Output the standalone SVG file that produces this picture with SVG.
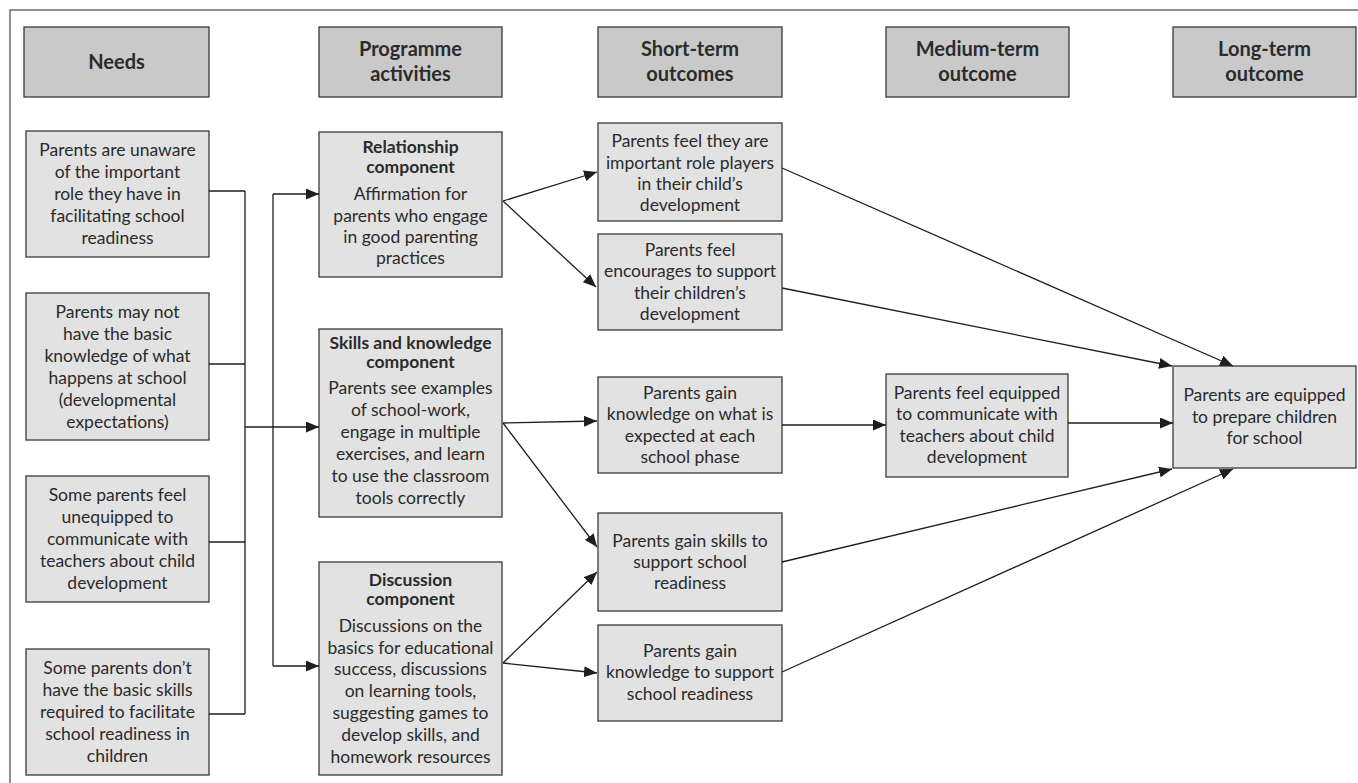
<svg xmlns="http://www.w3.org/2000/svg" width="1358" height="783" viewBox="0 0 1358 783">
<defs>
<marker id="ah" markerUnits="userSpaceOnUse" markerWidth="13" markerHeight="11" refX="13" refY="5.5" orient="auto">
<path d="M0,0 L13,5.5 L0,11 z" fill="#1e1e1e"/>
</marker>
<style>
.hdr{fill:#c9c9ca;stroke:#3a3a3a;stroke-width:1.3}
.box{fill:#e2e2e3;stroke:#3a3a3a;stroke-width:1.3}
text{font-family:Lato,"Liberation Sans",sans-serif;font-size:17.5px;fill:#2b2b2b;text-anchor:middle}
.b{font-weight:bold}
.h{font-weight:bold;font-size:20px}
.c{fill:none;stroke:#1e1e1e;stroke-width:1.3}
.a{marker-end:url(#ah)}
</style>
</defs>
<rect width="1358" height="783" fill="#ffffff"/>
<path d="M10,783 V10 H1358" fill="none" stroke="#6e6e6e" stroke-width="1.5"/>

<g id="h-needs"><rect class="hdr" x="24" y="27" width="185" height="70"/><text class="h" x="116.5" y="69">Needs</text></g>
<g id="h-activities"><rect class="hdr" x="319" y="27" width="183" height="70"/><text class="h" x="410.5" y="56">Programme</text><text class="h" x="410.5" y="81">activities</text></g>
<g id="h-short"><rect class="hdr" x="598" y="27" width="184" height="70"/><text class="h" x="690" y="56">Short-term</text><text class="h" x="690" y="81">outcomes</text></g>
<g id="h-medium"><rect class="hdr" x="886" y="27" width="183" height="70"/><text class="h" x="977.5" y="56">Medium-term</text><text class="h" x="977.5" y="81">outcome</text></g>
<g id="h-long"><rect class="hdr" x="1173" y="27" width="183" height="70"/><text class="h" x="1264.5" y="56">Long-term</text><text class="h" x="1264.5" y="81">outcome</text></g>

<g id="need1"><rect class="box" x="26" y="131" width="183" height="126"/>
<text x="117.5" y="156">Parents are unaware</text><text x="117.5" y="178">of the important</text><text x="117.5" y="200">role they have in</text><text x="117.5" y="222">facilitating school</text><text x="117.5" y="244">readiness</text></g>
<g id="need2"><rect class="box" x="26" y="293" width="183" height="147"/>
<text x="117.5" y="318">Parents may not</text><text x="117.5" y="340">have the basic</text><text x="117.5" y="362">knowledge of what</text><text x="117.5" y="384">happens at school</text><text x="117.5" y="406">(developmental</text><text x="117.5" y="428">expectations)</text></g>
<g id="need3"><rect class="box" x="26" y="476" width="183" height="126"/>
<text x="117.5" y="501">Some parents feel</text><text x="117.5" y="523">unequipped to</text><text x="117.5" y="545">communicate with</text><text x="117.5" y="567">teachers about child</text><text x="117.5" y="589">development</text></g>
<g id="need4"><rect class="box" x="26" y="649" width="183" height="126"/>
<text x="117.5" y="674">Some parents don’t</text><text x="117.5" y="696">have the basic skills</text><text x="117.5" y="718">required to facilitate</text><text x="117.5" y="740">school readiness in</text><text x="117.5" y="762">children</text></g>

<g id="act-relationship"><rect class="box" x="319" y="132" width="183" height="145"/>
<text class="b" x="410.5" y="153">Relationship</text><text class="b" x="410.5" y="173">component</text>
<text x="410.5" y="200">Affirmation for</text><text x="410.5" y="222">parents who engage</text><text x="410.5" y="243">in good parenting</text><text x="410.5" y="264">practices</text></g>
<g id="act-skills"><rect class="box" x="319" y="329" width="183" height="188"/>
<text class="b" x="410.5" y="349">Skills and knowledge</text><text class="b" x="410.5" y="368">component</text>
<text x="410.5" y="394">Parents see examples</text><text x="410.5" y="416">of school-work,</text><text x="410.5" y="438">engage in multiple</text><text x="410.5" y="460">exercises, and learn</text><text x="410.5" y="482">to use the classroom</text><text x="410.5" y="504">tools correctly</text></g>
<g id="act-discussion"><rect class="box" x="319" y="562" width="183" height="213"/>
<text class="b" x="410.5" y="586">Discussion</text><text class="b" x="410.5" y="605">component</text>
<text x="410.5" y="632">Discussions on the</text><text x="410.5" y="654">basics for educational</text><text x="410.5" y="675">success, discussions</text><text x="410.5" y="697">on learning tools,</text><text x="410.5" y="719">suggesting games to</text><text x="410.5" y="741">develop skills, and</text><text x="410.5" y="763">homework resources</text></g>

<g id="st1"><rect class="box" x="598" y="123" width="184" height="98"/>
<text x="690" y="147">Parents feel they are</text><text x="690" y="169">important role players</text><text x="690" y="190">in their child’s</text><text x="690" y="211">development</text></g>
<g id="st2"><rect class="box" x="598" y="234" width="184" height="96"/>
<text x="690" y="256">Parents feel</text><text x="690" y="277">encourages to support</text><text x="690" y="299">their children’s</text><text x="690" y="320">development</text></g>
<g id="st3"><rect class="box" x="598" y="377" width="184" height="96"/>
<text x="690" y="399">Parents gain</text><text x="690" y="420">knowledge on what is</text><text x="690" y="442">expected at each</text><text x="690" y="463">school phase</text></g>
<g id="st4"><rect class="box" x="598" y="513" width="184" height="98"/>
<text x="690" y="547">Parents gain skills to</text><text x="690" y="568">support school</text><text x="690" y="589">readiness</text></g>
<g id="st5"><rect class="box" x="598" y="625" width="184" height="96"/>
<text x="690" y="657">Parents gain</text><text x="690" y="678">knowledge to support</text><text x="690" y="700">school readiness</text></g>

<g id="medium"><rect class="box" x="886" y="374" width="182" height="103"/>
<text x="977" y="399">Parents feel equipped</text><text x="977" y="420">to communicate with</text><text x="977" y="442">teachers about child</text><text x="977" y="463">development</text></g>

<g id="long"><rect class="box" x="1173" y="366" width="183" height="102"/>
<text x="1264.5" y="401">Parents are equipped</text><text x="1264.5" y="423">to prepare children</text><text x="1264.5" y="444">for school</text></g>

<g id="connectors">
<path class="c" d="M209,191 H245 M209,364 H245 M209,542 H245 M209,714 H245 M245,191 V714"/>
<path class="c a" d="M245,427 H319"/>
<path class="c" d="M273,194 V666"/>
<path class="c a" d="M273,194 H319"/>
<path class="c a" d="M273,666 H319"/>
<path class="c a" d="M503,201 L597,172"/>
<path class="c a" d="M503,201 L596,287"/>
<path class="c a" d="M503,423 L597,421"/>
<path class="c a" d="M503,423 L597,547"/>
<path class="c a" d="M503,663 L597,572"/>
<path class="c a" d="M503,663 L597,673"/>
<path class="c a" d="M782,425 H886"/>
<path class="c a" d="M1068,423 H1173"/>
<path class="c a" d="M782,168 L1233,366"/>
<path class="c a" d="M782,288 L1172,366"/>
<path class="c a" d="M782,562 L1172,469"/>
<path class="c a" d="M782,672 L1233,469"/>
</g>
</svg>
